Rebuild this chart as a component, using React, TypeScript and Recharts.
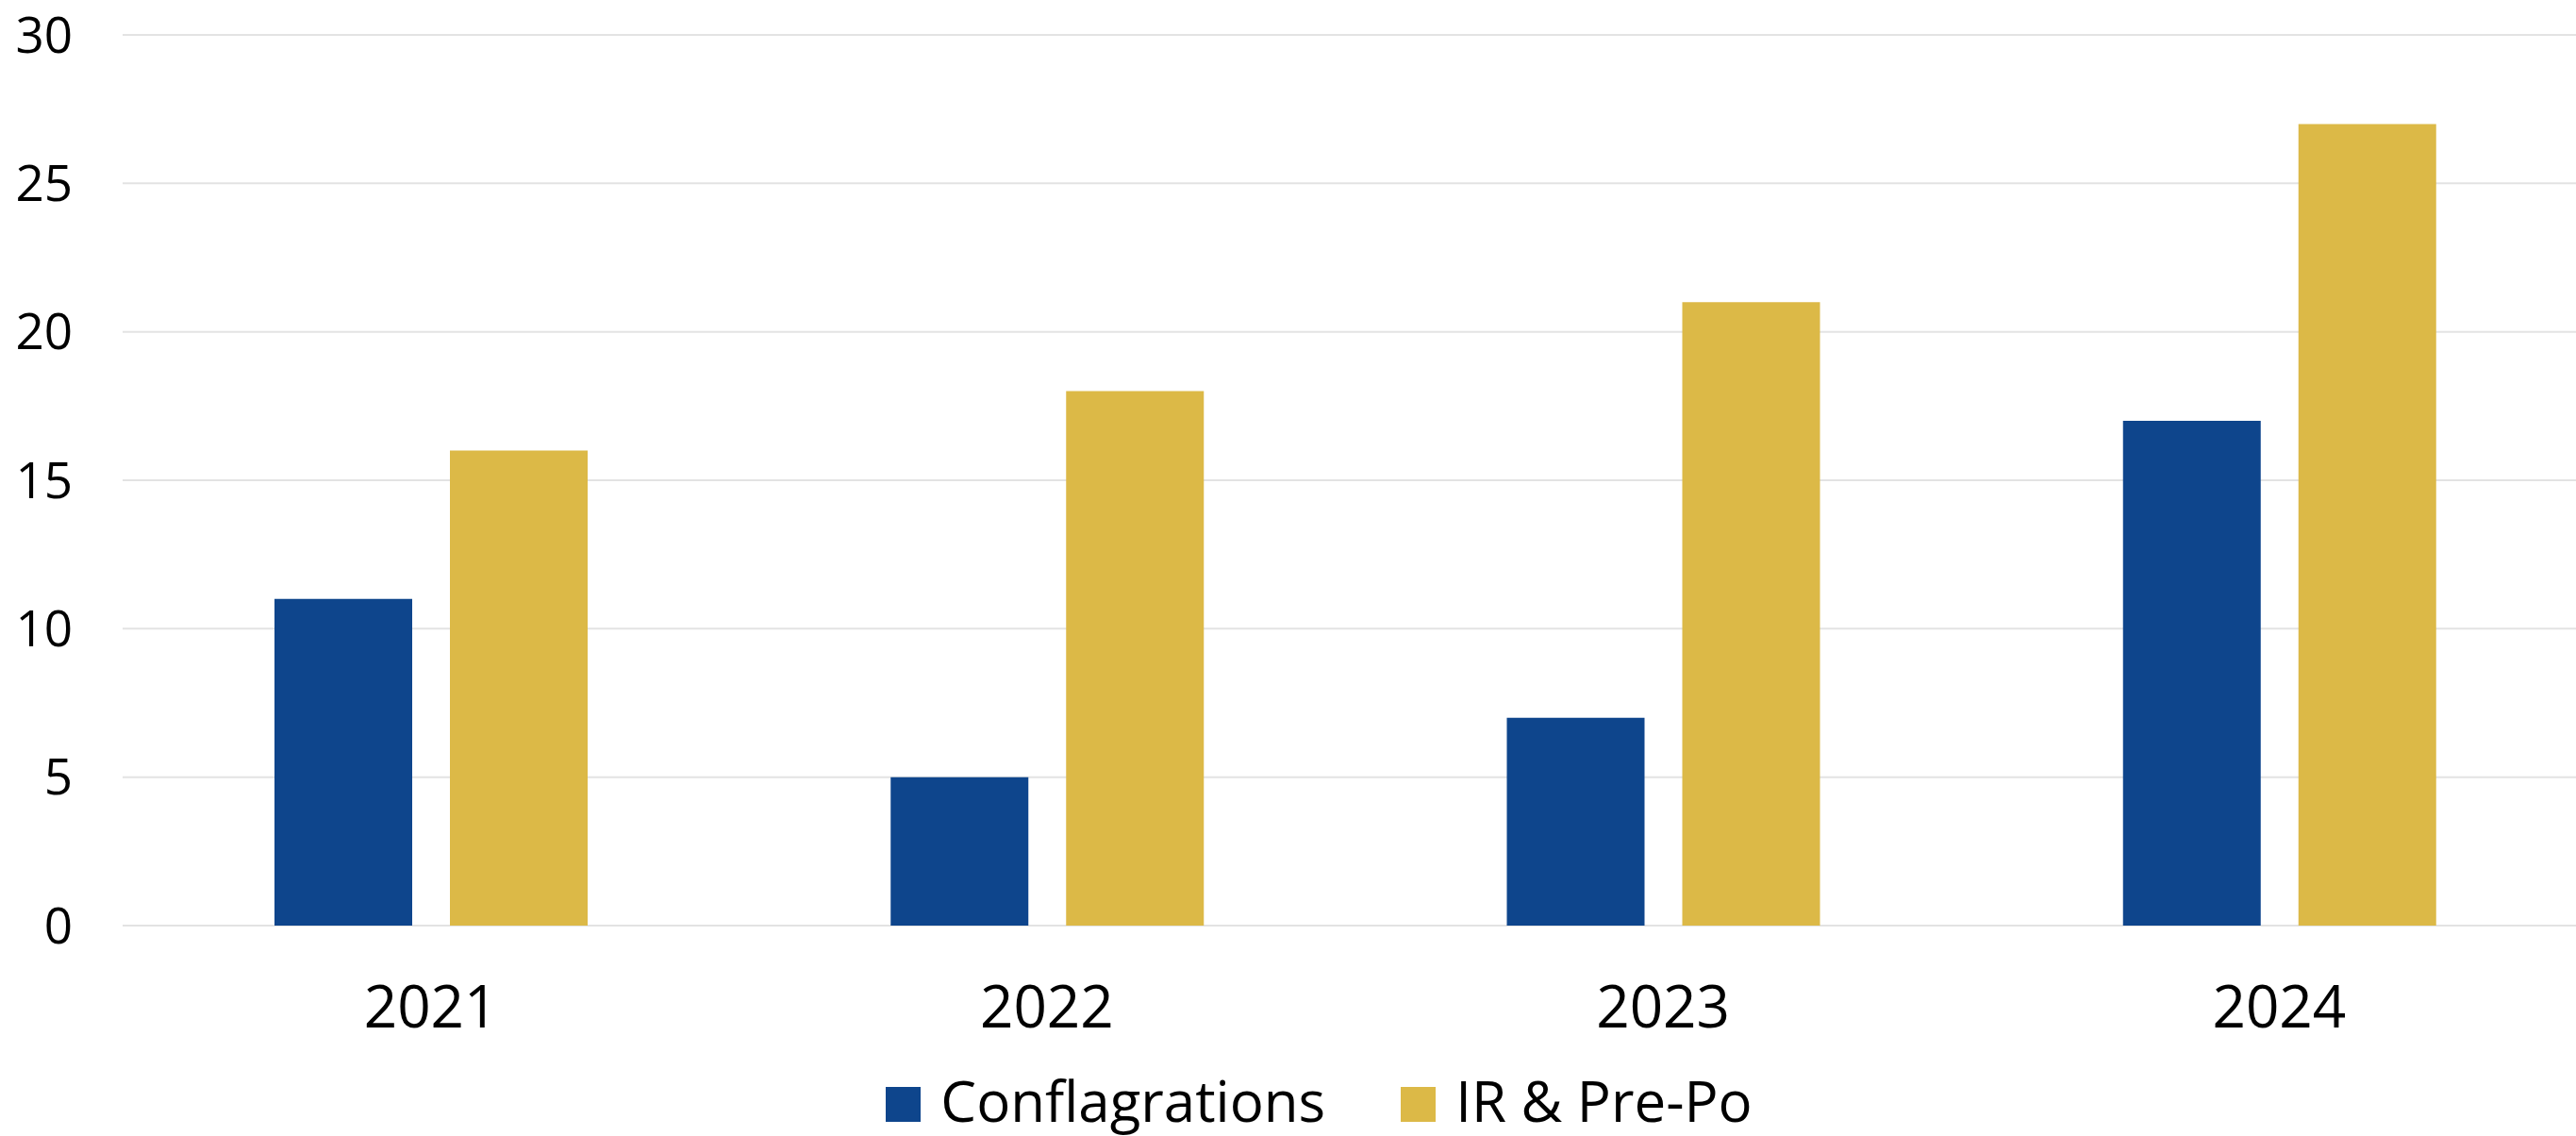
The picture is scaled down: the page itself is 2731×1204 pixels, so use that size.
import React from 'react';
import { BarChart, Bar, XAxis, YAxis, CartesianGrid, Legend } from 'recharts';

const years = ['2021', '2022', '2023', '2024'];
const conflagrations = [11, 5, 7, 17];
const irPrePo = [16, 18, 21, 27];
const yTicks = [0, 5, 10, 15, 20, 25, 30];

const BLUE = '#0E458C';
const GOLD = '#DCB947';
const FONT = '"Open Sans", sans-serif';

const data = years.map((y, i) => ({
  year: y,
  conflagrations: conflagrations[i],
  irPrePo: irPrePo[i],
}));

const LegendContent = (props: any) => {
  const items = props.payload || [];
  return (
    <div
      style={{
        height: 80,
        boxSizing: 'border-box',
        paddingTop: 9,
        paddingLeft: 66,
        display: 'flex',
        justifyContent: 'center',
        alignItems: 'flex-start',
        fontFamily: FONT,
      }}
    >
      {items.map((it: any, i: number) => (
        <div
          key={i}
          style={{
            display: 'flex',
            alignItems: 'center',
            height: 66,
            marginRight: i < items.length - 1 ? 80 : 0,
          }}
        >
          <div style={{ width: 37, height: 37, background: it.color, marginRight: 21, marginTop: 8 }} />
          <span style={{ fontSize: 60, color: '#000', lineHeight: '66px' }}>{it.value}</span>
        </div>
      ))}
    </div>
  );
};

export default function App() {
  return (
    <div style={{ position: 'absolute', left: 0, top: 0, width: 2731, height: 1204, background: '#fff', overflow: 'hidden' }}>
      <BarChart
        width={2743}
        height={1204}
        data={data}
        margin={{ top: 37, right: 0, bottom: 0, left: 0 }}
        barGap={40}
        barSize={146}
      >
        <CartesianGrid vertical={false} stroke="#E3E3E3" strokeWidth={2} />
        <XAxis
          dataKey="year"
          axisLine={false}
          tickLine={false}
          tickSize={0}
          tickMargin={64}
          height={143}
          interval={0}
          tick={{ fontSize: 62, fill: '#000', fontFamily: FONT }}
        />
        <YAxis
          domain={[0, 30]}
          ticks={yTicks}
          axisLine={false}
          tickLine={false}
          tickSize={0}
          tickMargin={53}
          width={130}
          interval={0}
          tick={{ fontSize: 53, fill: '#000', fontFamily: FONT }}
        />
        <Legend verticalAlign="bottom" wrapperStyle={{ left: 0, width: 2731 }} content={LegendContent} />
        <Bar dataKey="conflagrations" name="Conflagrations" fill={BLUE} isAnimationActive={false} />
        <Bar dataKey="irPrePo" name="IR & Pre-Po" fill={GOLD} isAnimationActive={false} />
      </BarChart>
    </div>
  );
}
